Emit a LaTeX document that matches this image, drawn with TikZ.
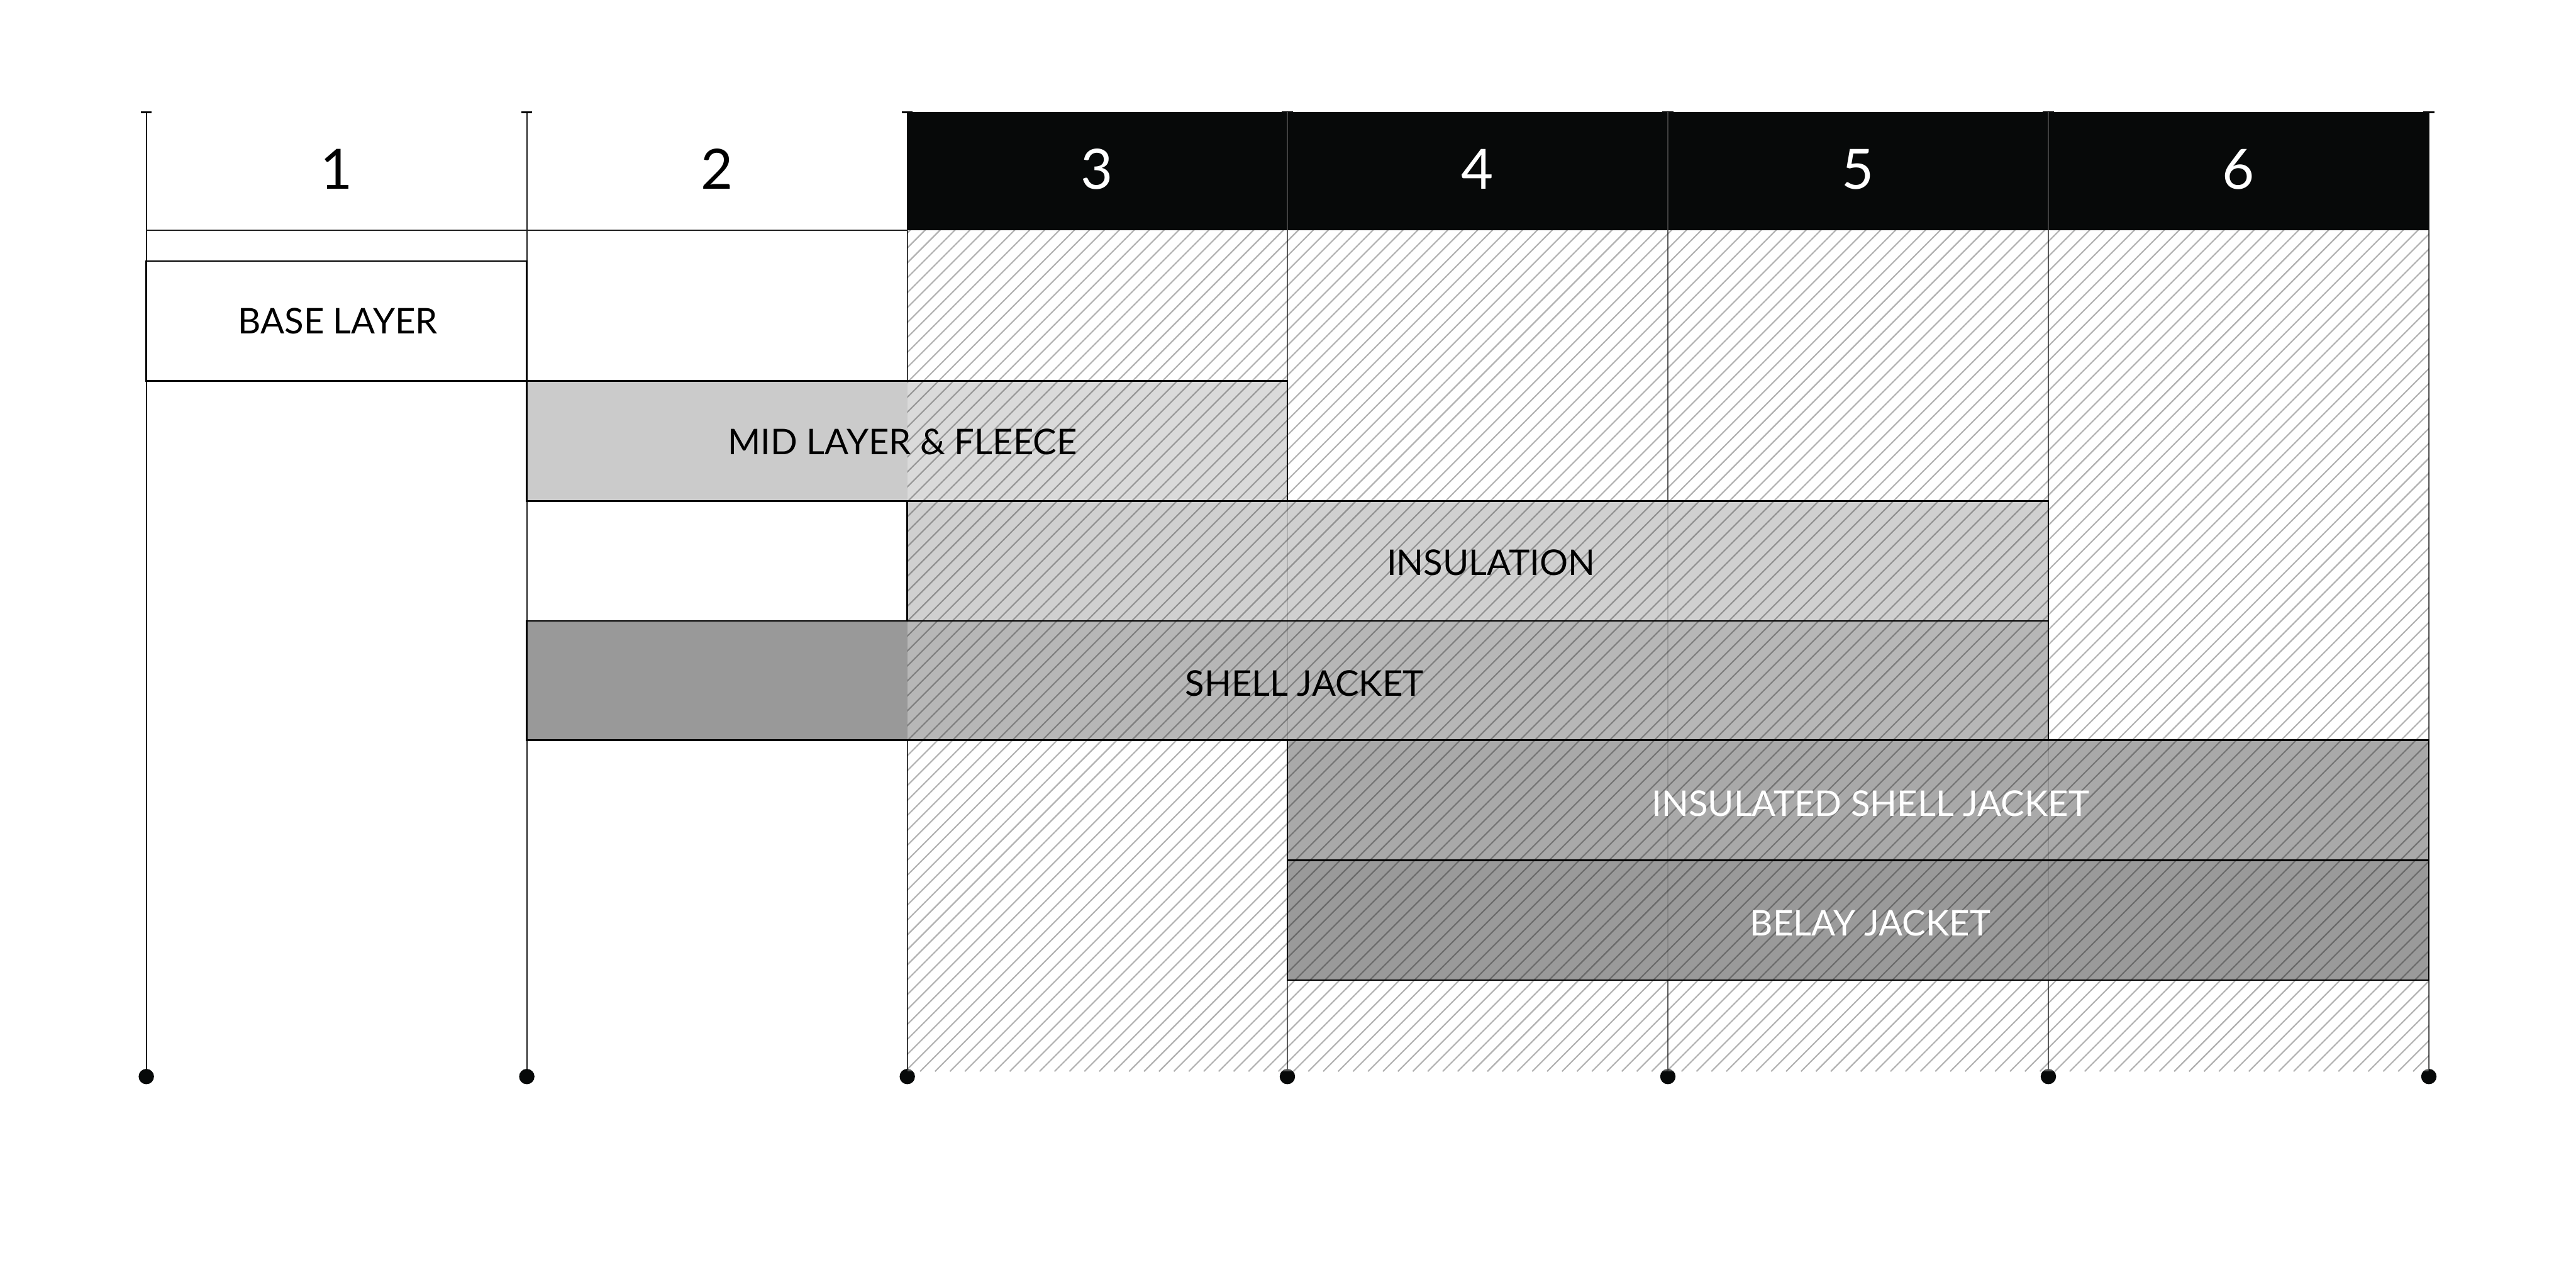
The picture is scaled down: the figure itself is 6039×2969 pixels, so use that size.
\documentclass[tikz,border=0pt]{standalone}
\usepackage{fontspec}
\setmainfont{Lato}
\definecolor{hdr}{HTML}{070909}
\definecolor{midc}{HTML}{CBCBCB}
\definecolor{insc}{HTML}{BDBDBD}
\definecolor{shellc}{HTML}{999999}
\definecolor{isjc}{HTML}{848484}
\definecolor{belayc}{HTML}{6F6F6F}
\definecolor{gridc}{HTML}{1E1E1E}
\begin{document}
\begin{tikzpicture}[x=0.01cm,y=-0.01cm,
  gridline/.style={draw=gridc, line width=0.85pt},
  tickmark/.style={draw=black, line width=1.2pt},
  dotfill/.style={fill=hdr},
  barborder/.style={draw=black, line width=1.15pt},
  hatchline/.style={draw=black, opacity=0.3, line width=0.9pt},
  faintline/.style={draw=black, opacity=0.25, line width=0.5pt},
  lbl/.style={anchor=base, inner sep=0pt, font=\fontsize{23.6}{28}\selectfont},
  num/.style={anchor=base, inner sep=0pt, font=\fontsize{37}{44}\selectfont}]
\fill[white] (0,0) rectangle (6039,2969);
\useasboundingbox (0,0) rectangle (6039,2969);

% vertical grid lines, ticks, dots
\foreach \x in {343,1235,2127,3018,3910,4802,5694}{
  \draw[gridline] (\x,263) -- (\x,2523);
  \draw[tickmark] (\x-13,263) -- (\x+13,263);
  \fill[dotfill] (\x,2523) circle[radius=0.18cm];
}

% header
\fill[hdr] (2127,263) rectangle (5694,540);
\foreach \x in {3018,3910,4802}
  \draw[draw=black!75, line width=0.5pt] (\x,263) -- (\x,540);

% bars (fills)
\fill[white] (343,612) rectangle (1235,893);
\fill[midc] (1235,893) rectangle (3018,1174);
\fill[insc] (2127,1174) rectangle (4802,1455);
\fill[shellc] (1235,1455) rectangle (4802,1735);
\fill[isjc] (3018,1735) rectangle (5694,2016);
\fill[belayc] (3018,2016) rectangle (5694,2297);

% faint column lines seen through the bars
\foreach \x in {3018,3910,4802}
  \draw[faintline] (\x,540) -- (\x,2511);

% hatched zone: light veil and diagonal lines
\fill[white, opacity=0.3] (2127,540) rectangle (5694,2511);
\begin{scope}
  \clip (2127,540) rectangle (5694,2511);
  \foreach \i in {127,162,...,5694}
    \draw[hatchline] (\i,2511) -- ++(2000,-2000);
\end{scope}

% borders
\draw[gridline] (343,540) -- (2127,540);
\draw[barborder] (343,612) rectangle (1235,893);
\draw[barborder] (1235,893) rectangle (3018,1174);
\draw[barborder] (2127,1174) rectangle (4802,1455);
\draw[barborder] (1235,1455) rectangle (4802,1735);
\draw[barborder] (3018,1735) rectangle (5694,2016);
\draw[barborder] (3018,2016) rectangle (5694,2297);

% column numbers
\node[num, text=black] (n1) at (789,443) {1};
\node[num, text=black] (n2) at (1681,443) {2};
\node[num, text=white] (n3) at (2572,443) {3};
\node[num, text=white] (n4) at (3464,443) {4};
\node[num, text=white] (n5) at (4356,443) {5};
\node[num, text=white] (n6) at (5248,443) {6};

% labels
\node[lbl, text=black] (base) at (792,782) {BASE LAYER};
\node[lbl, text=black] (mid) at (2116,1065) {MID LAYER \& FLEECE};
\node[lbl, text=black] (ins) at (3495,1348) {INSULATION};
\node[lbl, text=black] (shell) at (3058,1632) {SHELL JACKET};
\node[lbl, text=white] (isj) at (4385,1913) {INSULATED SHELL JACKET};
\node[lbl, text=white] (belay) at (4385,2193) {BELAY JACKET};
\end{tikzpicture}
\end{document}
